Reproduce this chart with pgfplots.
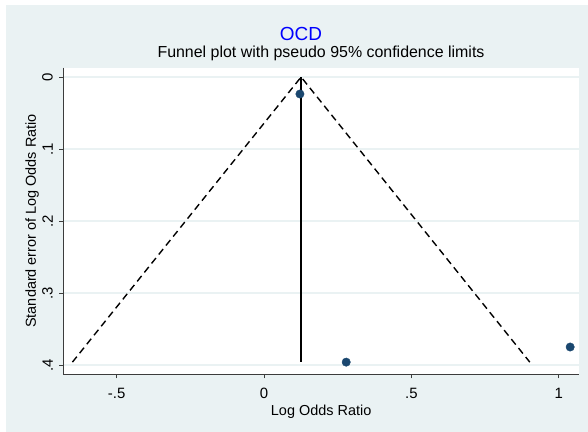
\documentclass[border=0pt]{standalone}
\usepackage{pgfplots}
\pgfplotsset{compat=1.18}
\usepackage{fontspec}
\setmainfont{Liberation Sans}
\definecolor{graphbg}{RGB}{234,242,243}
\definecolor{navy}{RGB}{26,71,111}
\definecolor{axisgray}{RGB}{60,60,60}

\begin{document}
\begin{tikzpicture}
% graph region
\fill[white] (0bp,0bp) rectangle (588bp,432bp);
\fill[graphbg] (6bp,0bp) rectangle (588bp,427bp);
\path[use as bounding box] (0bp,0bp) rectangle (588bp,432bp);
\begin{axis}[
  at={(63.3bp,57.7bp)}, anchor=south west,
  scale only axis, width=515.7bp, height=306.8bp,
  xmin=-0.681, xmax=1.069,
  y dir=reverse, ymin=-0.0132, ymax=0.4129,
  axis background/.style={fill=white},
  axis x line*=bottom, axis y line*=left,
  axis line style={axisgray, line width=0.8bp, -},
  xtick={-0.5,0,0.5,1}, xticklabels={-.5,0,.5,1},
  ytick={0,0.1,0.2,0.3,0.4}, yticklabels={0,.1,.2,.3,.4},
  tick align=outside, major tick length=4bp,
  tick style={axisgray, line width=0.8bp},
  ymajorgrids, grid style={graphbg, line width=1.2bp},
  ticklabel style={font=\fontsize{15}{17}\selectfont},
  yticklabel style={rotate=90, anchor=south},
  yticklabel shift=3bp,
  xticklabel shift=6bp,
  xlabel={Log Odds Ratio}, ylabel={Standard error of Log Odds Ratio},
  label style={font=\fontsize{14.5}{16}\selectfont},
  ylabel style={at={(axis description cs:-0.0605,0.5)}, anchor=center},
  clip=false,
]
% pseudo 95% confidence limits
\addplot[black, line width=1.4bp, dash pattern=on 7bp off 4.5bp]
  coordinates {(-0.650,0.396) (0.126,0) (0.902,0.396)};
% pooled estimate
\addplot[black, line width=1.4bp] coordinates {(0.126,0) (0.126,0.396)};
% studies
\addplot[only marks, mark=*, mark size=4.2bp, mark options={fill=navy, draw=navy}]
  coordinates {(0.122,0.0236) (0.279,0.396) (1.039,0.375)};
\end{axis}
\node[font=\fontsize{19}{22}\selectfont, text=blue, anchor=center] at (301bp,398.3bp) {OCD};
\node[font=\fontsize{16}{18}\selectfont, anchor=base] at (321bp,374.5bp) {Funnel plot with pseudo 95\% confidence limits};
\end{tikzpicture}
\end{document}
